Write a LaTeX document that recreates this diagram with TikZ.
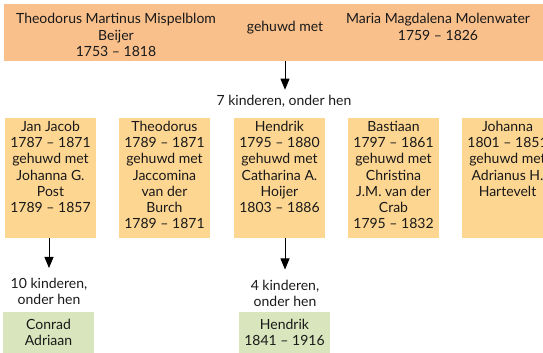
\documentclass[tikz,border=0pt]{standalone}
\usepackage{fontspec}
\setmainfont{Lato}
\usetikzlibrary{arrows.meta}

\definecolor{topfill}{RGB}{249,192,140}
\definecolor{kidfill}{RGB}{253,214,146}
\definecolor{grandfill}{RGB}{217,229,188}

\tikzset{
  every node/.style={font=\fontsize{14}{16.2}\selectfont, text=black!90},
  kidbox/.style={fill=kidfill, minimum width=91pt, minimum height=120pt, inner sep=0pt},
  kidtext/.style={anchor=north, align=center, inner sep=0pt},
  grandbox/.style={fill=grandfill, minimum width=91pt, minimum height=41pt, align=center, inner sep=0pt},
  down/.style={-{Triangle[width=9pt,length=11pt]}, line width=0.8pt},
}

\begin{document}
\begin{tikzpicture}[x=1pt, y=-1pt]
\useasboundingbox (0,0) rectangle (543,353);
\clip (0,0) rectangle (543,353);

% ouders
\node[fill=topfill, minimum width=560pt, minimum height=57pt, anchor=north west, inner sep=0pt] (ouders) at (4,4) {};
\node[align=center, inner sep=0pt] (vader) at (116,35) {Theodorus Martinus Mispelblom\\Beijer\\1753 -- 1818};
\node[inner sep=0pt] (gehuwd) at (285,28) {gehuwd met};
\node[align=center, inner sep=0pt] (moeder) at (438,27) {Maria Magdalena Molenwater\\1759 -- 1826};

\node[inner sep=0pt] (zeven) at (284,101) {7 kinderen, onder hen};
\draw[down, shorten >=5pt] (ouders.south -| gehuwd) -- (zeven.north -| gehuwd);

% kinderen
\node[kidbox] (jan) at (50.5,178) {};
\node[kidbox] (theo) at (164.5,178) {};
\node[kidbox] (hendrik) at (279.5,178) {};
\node[kidbox] (bastiaan) at (393.5,178) {};
\node[kidbox] (johanna) at (507.5,178) {};

\node[kidtext] (janT) at (50.5,121) {Jan Jacob\\1787 -- 1871\\gehuwd met\\Johanna G.\\Post\\1789 -- 1857};
\node[kidtext] (theoT) at (164.5,121) {Theodorus\\1789 -- 1871\\gehuwd met\\Jaccomina\\van der\\Burch\\1789 -- 1871};
\node[kidtext] (hendrikT) at (279.5,121) {Hendrik\\1795 -- 1880\\gehuwd met\\Catharina A.\\Hoijer\\1803 -- 1886};
\node[kidtext] (bastiaanT) at (393.5,121) {Bastiaan\\1797 -- 1861\\gehuwd met\\Christina\\J.M. van der\\Crab\\1795 -- 1832};
\node[kidtext] (johannaT) at (507.5,121) {Johanna\\1801 -- 1851\\gehuwd met\\Adrianus H.\\Hartevelt};

% kleinkinderen
\node[align=center, inner sep=0pt] (tien) at (49,291.5) {10 kinderen,\\onder hen};
\node[align=center, inner sep=0pt] (vier) at (285,293) {4 kinderen,\\onder hen};
\draw[down, shorten >=10pt] (jan.south -| tien) -- (tien.north);
\draw[down, shorten >=10pt] (hendrik.south -| vier) -- (vier.north);

\node[grandbox] (conrad) at (48.5,332.5) {Conrad\\Adriaan};
\node[grandbox] (hendrik2) at (284.5,332.5) {Hendrik\\1841 -- 1916};
\end{tikzpicture}
\end{document}
